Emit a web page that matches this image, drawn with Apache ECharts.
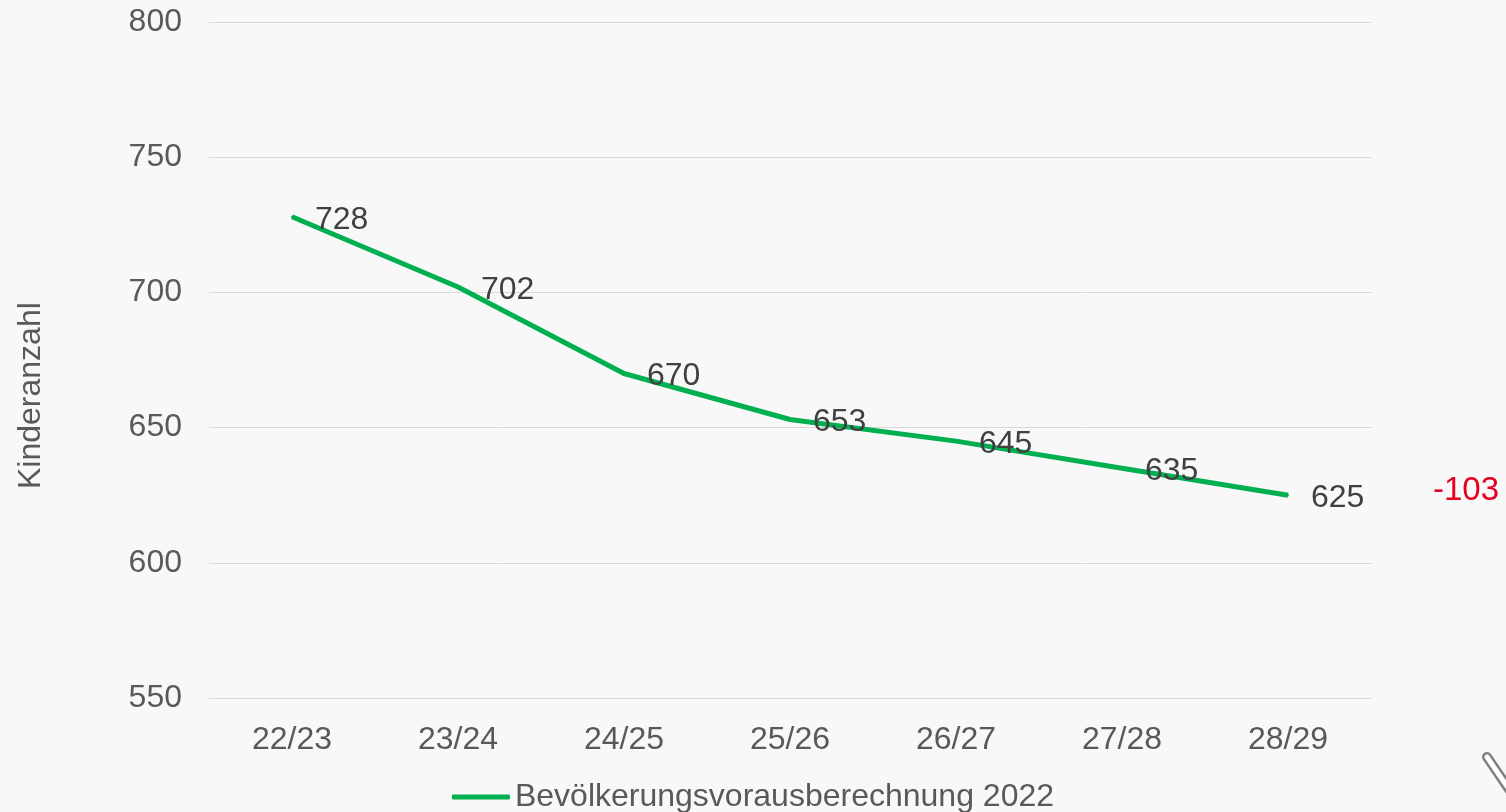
<!DOCTYPE html>
<html><head><meta charset="utf-8">
<script src="https://cdn.jsdelivr.net/npm/echarts@6/dist/echarts.min.js"></script>
<style>html,body{margin:0;padding:0;background:#f8f8f8;}#c{width:1506px;height:812px;}</style>
</head><body><div id="c"></div>
<script>
const categories = ['22/23','23/24','24/25','25/26','26/27','27/28','28/29'];
const values = [728, 702, 670, 653, 645, 635, 625];
const seriesName = 'Bevölkerungsvorausberechnung 2022';
const yTicks = {min: 550, max: 800, interval: 50};
const yTitle = 'Kinderanzahl';
const diffLabel = String(values[values.length-1] - values[0]);

const FONT = '"Liberation Sans", Arial, sans-serif';
const chart = echarts.init(document.getElementById('c'));
chart.setOption({
  backgroundColor: '#f8f8f8',
  animation: false,
  grid: {left: 209, right: 135, top: 22, bottom: 114},
  legend: {
    bottom: -6, left: 'center', itemWidth: 58, itemHeight: 5, itemGap: 0,
    icon: 'roundRect',
    textStyle: {fontFamily: FONT, fontSize: 32, color: '#595959', padding: [0,0,0,0]},
    data: [seriesName]
  },
  xAxis: {
    type: 'category', data: categories, boundaryGap: true,
    axisLine: {show: true, lineStyle: {color: '#d9d9d9', width: 1}},
    axisTick: {show: false},
    axisLabel: {fontFamily: FONT, fontSize: 32, color: '#595959', margin: 26}
  },
  yAxis: {
    type: 'value', min: yTicks.min, max: yTicks.max, interval: yTicks.interval,
    axisLine: {show: false}, axisTick: {show: false},
    splitLine: {lineStyle: {color: '#d9d9d9', width: 1}},
    axisLabel: {fontFamily: FONT, fontSize: 32, color: '#595959', margin: 27, padding: [4,0,0,0]}
  },
  series: [{
    name: seriesName, type: 'line', data: values,
    symbol: 'circle', symbolSize: 2, showSymbol: true,
    itemStyle: {color: '#00b050'},
    lineStyle: {color: '#00b050', width: 5},
    label: {show: true, position: 'right', distance: 22, offset: [0, 3],
      fontFamily: FONT, fontSize: 32, color: '#404040'}
  }]
});
const p = chart.convertToPixel({xAxisIndex:0, yAxisIndex:0}, [categories.length-1, values[values.length-1]]);
chart.setOption({
  graphic: [
    {type: 'text', rotation: Math.PI/2,
     style: {text: yTitle, font: '32px ' + FONT, fill: '#595959'},
     x: 15, y: 489},
    {type: 'text', x: p[0] + 145, y: p[1] - 4,
     style: {text: diffLabel, font: '33px ' + FONT, fill: '#e60020', textVerticalAlign: 'middle'}},
    {type: 'line', shape: {x1: 1487, y1: 757, x2: 1530, y2: 820},
     style: {stroke: '#7f7f7f', lineWidth: 10, lineCap: 'round'}},
    {type: 'line', shape: {x1: 1487, y1: 757, x2: 1530, y2: 820},
     style: {stroke: '#ffffff', lineWidth: 5, lineCap: 'round'}}
  ]
});
</script>
</body></html>
